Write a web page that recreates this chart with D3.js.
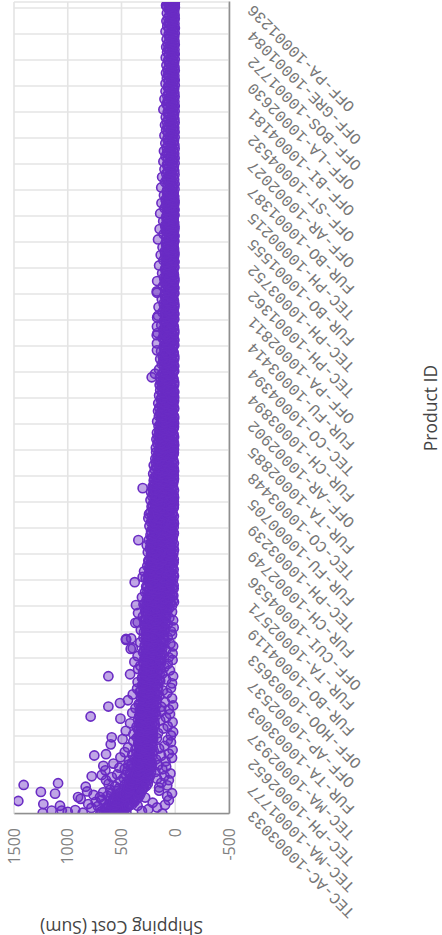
<!DOCTYPE html>
<html>
<head>
<meta charset="utf-8">
<script src="https://cdn.jsdelivr.net/npm/d3@7"></script>
<style>
  body { margin: 0; background: #fff; }
  svg { display: block; }
</style>
</head>
<body>
<div id="chart-container"></div>
<script>
// Tick labels along the product axis, first product first
const productLabels = [
  "TEC-AC-10003033","TEC-MA-10001777","TEC-PH-10002652","TEC-MA-10002937","FUR-TA-10003003","OFF-AP-10002537",
  "OFF-HOO-10003653","FUR-BO-10004119","FUR-TA-10002571","OFF-CUI-10004536","FUR-CH-10002749","TEC-PH-10003239",
  "FUR-FU-10000705","TEC-CO-10003448","FUR-TA-10002885","OFF-AR-10002902","FUR-CH-10003894","TEC-CO-10004394",
  "FUR-FU-10003414","OFF-PA-10002811","TEC-PH-10001362","TEC-PH-10003752","FUR-BO-10001555","TEC-PH-10000215",
  "FUR-BO-10001387","OFF-AR-10002027","OFF-ST-10004532","OFF-BI-10004181","OFF-LA-10002630","OFF-BOS-10001772",
  "OFF-GRE-10001084","OFF-PA-10001236"
];
const ranksPerLabel = 60;
const lastRank = 1874;
const costTicks = [-500, 0, 500, 1000, 1500];

// Shipping cost, one list per gap between two product labels
const costsByGap = [
  [640,120,510,860,455,560,690,310,600,930,480,250,650,530,780,170,580,440,720,350,620,95,500,810,660,470,210,590,740,540,390,610,60,680,520,880,430,570,280,700,490,75,630,550,760,460,340,595,30,515,670,420,820,545,150,480,605,380,450,525],
  [440,150,380,560,340,75,470,410,620,320,130,450,360,510,390,60,430,300,170,480,350,590,400,100,330,460,540,370,45,420,310,185,445,380,650,340,120,470,395,520,325,85,415,355,160,435,300,575,405,365],
  [350,90,290,430,260,180,380,320,30,510,270,340,130,300,400,250,60,360,280,470,310,200,265,25,330,370,150,285,440,255,335,100,300,270,600,345,215,275,40,320,390,260,70,305,490,285,170,355,235,315],
  [330,40,270,390,235,160,300,20,250,460,340,210,285,110,315,240,360,70,265,320,190,245,420,300,25,275,230,140,345,255,510,290,85,225,335,260,175,305,50,280,400,240,320,130,270],
  [310,60,250,370,215,130,285,20,235,340,200,265,95,300,225,440,170,255,30,320,210,275,150,240,395,295,75,220,330,250,115,270,205,355,40,290,230,185,305,260],
  [290,30,240,350,195,140,270,85,220,310,180,255,20,285,205,420,120,235,300,165,265,50,215,345,190,275,100,245,325,175,230,70,295,210,380,150,255,25,225,185],
  [280,60,220,350,175,115,260,25,205,300,165,240,85,275,190,395,135,225,20,285,155,250,45,210,325,180,265,100,235,170,410,295,70,200,245,150,30,270,215,185],
  [270,40,210,320,160,95,250,15,195,285,145,230,70,260,175,350,120,215,20,275,150,240,55,190,300,165,225,85,255,135,205,30,280,180,110,235,60,160,265,200],
  [250,30,195,295,140,80,235,12,180,265,125,215,55,245,160,310,100,200,18,255,135,225,45,170,280,115,205,70,240,150,25,190,90,260,130,210,15,175,60,230,145,105,35,220,185],
  [235,20,180,275,120,70,220,12,165,250,105,200,45,230,145,290,85,185,15,240,130,210,35,155,260,95,190,60,225,115,25,175,75,245,135,200,14,160,50,215,125,90,30,205,170],
  [215,18,165,255,110,60,205,12,150,235,95,185,40,215,135,265,75,170,14,225,120,195,30,140,245,85,175,55,210,105,22,160,65,230,125,190,13,145,45,200,115,80,28,180,155],
  [205,15,155,240,100,55,195,12,140,225,85,175,35,205,125,250,70,160,13,215,110,185,28,130,230,80,165,50,200,95,20,150,60,220,115,180,12,135,42,190],
  [195,14,145,230,90,50,185,11,130,215,78,165,32,195,115,225,62,150,12,205,100,175,25,120,210,72,155,45,190,88,18,140,55,200,105,170,12,125,38,180],
  [170,13,125,205,80,45,160,11,115,190,68,145,28,172,100,200,55,130,12,180,88,155,22,108,185,62,138,40,165,76,16,122,50,178,92,150],
  [150,12,110,180,72,40,142,10,102,165,60,128,25,152,88,175,48,118,11,160,78,135,20,95,170,55,122,35,145,68,15,108,44,155,82,132],
  [140,11,100,168,65,36,130,10,92,152,54,118,22,138,80,160,44,108,10,148,70,125,18,86,158,50,112,30,134,60],
  [130,10,92,150,58,32,120,9,84,140,48,108,20,126,72,145,40,98,10,135,64,114,16,78,142,44,102,28,122,54],
  [108,10,80,150,52,28,102,9,72,125,42,95,18,110,64,140,36,86,9,118,56,98,14,70,132,40,90,24,104,48],
  [104,9,76,170,48,26,98,8,68,118,38,90,16,106,60,165,33,82,9,112,52,94,13,66,130,36,86,22,100,44],
  [100,9,70,168,45,24,92,8,62,120,36,84,15,102,56,155,30,76,8,108,48,88,12,60,125,33,80,20,96,40],
  [95,8,66,172,42,22,88,8,58,115,34,80,14,98,52,168,28,72,8,104,46,84,12,56,122,30,76,18,92,38],
  [90,8,62,150,40,20,84,7,54,110,30,76,13,92,48,135,26,68,8,98,44,80,11,52,118,28,72,16,86,36],
  [85,8,58,160,36,18,80,7,50,108,28,72,12,88,46,145,24,64,7,94,40,76,10,48,112,26,68,15,82,34],
  [80,7,54,140,34,17,76,7,46,100,26,68,11,84,42,128,22,60,7,90,38,72,10,44,105,24,64,14,78,30],
  [75,7,50,130,32,16,72,6,44,95,24,64,10,78,40,122,20,56,7,84,36,68,9,42,100,22,60,13,74,28],
  [75,6,48,110,30,15,70,6,42,90,22,62,9,76,38,105,18,54,6,80,34,66,8,40,92,20,58,12,72,26],
  [70,6,46,100,28,14,66,6,40,85,20,60,9,72,36,95,17,52,6,78,32,64,8,38,88,19,56,11,68,24],
  [70,6,44,110,26,13,64,5,38,82,19,58,8,70,34,100,16,50,6,74,30,62,8,36,90,18,54,10,66,22],
  [65,5,42,90,25,12,60,5,36,78,18,55,8,66,32,86,15,48,5,70,28,58,7,34,82,16,52,10,62,21],
  [65,5,40,88,24,12,58,5,34,76,17,52,7,64,30,84,14,46,5,68,27,56,7,32,80,15,50,9,60,20],
  [60,5,38,90,23,11,56,4,33,74,16,50,7,62,28,82,13,44,5,66,26,54,6,30,78,14,48,9,58,19],
  [60,4,36,85,22,10,54,4,32,72,15,48,6,60,27,78,12,42,4,64,25,52,6,29,70,13,46,8,56,18]
];

// The thick core of the cloud, same gaps as above
const coreCostsByGap = [
  [700,520,660,500,680,540,610,470,650,490,590,450,630,430,560,400,600,420,530,380,570,395,510,360,540,345,480,370,500,330,470,350,450,320,440,340,430,310,420,300],
  [440,290,410,270,430,310,390,255,420,280,370,260,400,300,350,245,380,270,345,235,365,285,330,250,355,225,340,265,320,240,350,220,335,255,310,230,345,215,325,245],
  [345,225,315,240,335,260,300,220,325,280,345,235,290,250,330,215,310,265,340,230,295,245,320,210,335,270,300,225,315,255,340,215,285,240,325,205,305,260,330,220],
  [340,210,305,230,330,250,285,205,320,265,345,220,280,240,310,200,295,255,335,215,275,235,315,195,325,260,290,210,300,245,335,205,270,225,315,190,295,250,325,210],
  [330,190,290,215,320,235,270,180,305,250,325,200,260,225,295,175,280,240,315,195,255,215,300,170,310,245,275,185,285,230,320,165,250,205,295,160,270,235,310,180],
  [300,165,265,190,290,215,245,150,280,230,305,175,240,205,270,145,255,220,295,160,235,195,275,140,285,225,250,155,260,210,290,135,225,180,270,130,245,215,285,150],
  [285,130,245,170,275,195,225,125,260,210,290,150,220,185,250,120,235,200,280,140,215,175,255,115,265,205,230,135,240,190,275,110,205,160,250,105,225,195,270,125],
  [290,100,235,150,270,175,210,95,250,190,280,125,200,165,240,90,220,180,285,115,195,155,245,85,260,185,215,105,230,170,275,80,190,135,240,75,210,175,265,100],
  [275,70,220,125,255,45,195,150,235,20,265,100,180,210,60,245,140,170,30,225,90,260,120,200,50,240,160,15,215,80,270,130,185,40,230,110,205,65,250,155],
  [255,60,205,110,235,40,180,135,220,18,245,90,165,195,55,225,125,150,25,210,80,240,105,185,45,215,145,15,200,70,250,115,170,35,230,100,190,60,210,140],
  [225,50,185,100,215,35,160,125,200,18,230,80,150,175,45,210,115,140,25,190,70,220,95,165,40,195,130,15,180,65,225,105,155,30],
  [210,45,170,90,200,30,150,115,185,16,215,75,135,160,40,195,105,125,22,175,60,205,85,145,35,180,120,14,165,55,210,95,140,28],
  [200,40,160,85,190,28,135,105,175,15,205,65,125,150,35,185,95,115,20,165,55,195,78,130,30,170,110,14,155,50,195,90],
  [170,35,135,75,160,25,115,90,150,14,175,58,105,125,30,155,82,98,18,140,48,165,68,110,26,145,95,13,130,42],
  [150,30,120,65,142,22,100,80,132,13,155,50,92,112,26,138,72,85,16,125,42,148,60,98,22,128,84,12,115,38],
  [130,26,105,58,125,20,90,72,115,12,135,44,82,98,24,120,64,76,15,110,38,128,54,88,20,112,74,11,100,34],
  [125,24,95,52,115,18,82,65,105,11,122,40,75,90,22,110,58,70],
  [110,20,85,48,102,16,75,60,95,10,112,36,68,82,19,100,52,62],
  [105,18,80,44,98,15,70,55,90,9,106,33,62,76,17,95,48,58],
  [100,17,76,42,94,14,66,52,86,9,102,30,58,72,16,90,46,54],
  [96,16,72,40,90,13,62,48,82,8,98,28,55,68,15,86,44,50],
  [90,15,68,38,85,12,58,46,78,8,92,26,52,64,14,82,42,48],
  [86,14,64,35,80,12,56,44,74,8,88,24,50,60,13,78,40,46],
  [80,13,60,32,76,11,52,42,70,7,84,22,48,56,12,74,36,44]
];
const topCosts = [58,6,34,80,20,10,52,5,30,66,14,44,8];

// The few points that sit well away from the rest
const outlierRanks = [67,30,51,23,71,47,19,2,8,8,5,39,63,87,135,225,318,248,177,138,111,90,78,256,402,381,752,632,692,535,482,547,464,441,404,1016,1008,1203,1150,1125,1105,1070];
const outlierCosts = [1410,1460,1250,1227,1090,1118,1072,1233,1150,1056,1000,904,833,777,753,787,622,622,591,644,669,684,644,514,458,414,303,343,244,377,365,303,346,371,458,188,219,170,160,170,172,170];

const margin = { top: 14, left: 121 };
const width = 812;
const height = 215;

const x = d3.scaleLinear().domain([0, lastRank]).range([0, width]);
const y = d3.scaleLinear().domain([-500, 1500]).range([height, 0]);

// Chart is drawn wide and then turned a quarter turn
const svg = d3.select("#chart-container")
  .append("svg")
    .attr("width", 442)
    .attr("height", 935);

const g = svg.append("g")
    .attr("transform", `translate(0,935) rotate(-90) translate(${margin.left},${margin.top})`);

g.append("clipPath")
    .attr("id", "plot-clip")
  .append("rect")
    .attr("width", width)
    .attr("height", height);

const rankTicks = productLabels.map((d, i) => i * ranksPerLabel);

// Grid
g.selectAll("line.x-grid")
  .data([...rankTicks, lastRank])
  .join("line")
    .attr("class", "x-grid")
    .attr("x1", d => x(d))
    .attr("x2", d => x(d))
    .attr("y1", 0)
    .attr("y2", height)
    .attr("stroke", "#e4e4e4")
    .attr("stroke-width", 1.6);

g.selectAll("line.y-grid")
  .data(costTicks)
  .join("line")
    .attr("class", "y-grid")
    .attr("x1", 0)
    .attr("x2", width)
    .attr("y1", d => y(d))
    .attr("y2", d => y(d))
    .attr("stroke", "#e4e4e4")
    .attr("stroke-width", 1.6);

// Points
const points = [];
[costsByGap, coreCostsByGap].forEach(lists => {
  lists.forEach((costs, i) => {
    costs.forEach((c, j) => points.push({ rank: (i + j / costs.length) * ranksPerLabel, cost: c }));
  });
});
topCosts.forEach((c, j) => points.push({ rank: rankTicks[31] + 1 + j, cost: c }));
outlierRanks.forEach((r, i) => points.push({ rank: r, cost: outlierCosts[i] }));

g.append("g")
    .attr("clip-path", "url(#plot-clip)")
  .selectAll("circle")
  .data(points)
  .join("circle")
    .attr("cx", d => x(d.rank))
    .attr("cy", d => y(d.cost))
    .attr("r", 4.6)
    .attr("fill", "#6a2cc4")
    .attr("fill-opacity", 0.42)
    .attr("stroke", "#6a2cc4")
    .attr("stroke-width", 1.6);

// Axes
const xAxis = g.append("g")
    .attr("transform", `translate(0,${height})`)
    .call(d3.axisBottom(x)
      .tickValues(rankTicks)
      .tickFormat((d, i) => productLabels[i])
      .tickSize(0));

xAxis.select(".domain").attr("stroke", "#8f8f8f").attr("stroke-width", 1.6);
xAxis.selectAll("text")
    .attr("transform", "translate(0,21) rotate(-45)")
    .attr("x", 0)
    .attr("y", 0)
    .attr("dy", "0.32em")
    .attr("text-anchor", "end")
    .style("font-family", "'Liberation Mono', monospace")
    .style("font-size", "16px")
    .style("fill", "#777");

const yAxis = g.append("g")
    .call(d3.axisLeft(y)
      .tickValues(costTicks)
      .tickFormat(String)
      .tickSize(0)
      .tickPadding(14));

yAxis.select(".domain").attr("stroke", "#8f8f8f").attr("stroke-width", 1.6);
yAxis.selectAll("text")
    .style("font-family", "'Open Sans', sans-serif")
    .style("font-size", "16px")
    .style("fill", "#808080");

// Axis titles
g.append("text")
    .attr("x", width / 2)
    .attr("y", 423)
    .attr("text-anchor", "middle")
    .style("font-family", "'Open Sans', sans-serif")
    .style("font-size", "17.5px")
    .style("fill", "#444")
    .text("Product ID");

g.append("text")
    .attr("transform", `translate(-107,${height / 2}) rotate(-90)`)
    .attr("text-anchor", "middle")
    .style("font-family", "'Open Sans', sans-serif")
    .style("font-size", "17.5px")
    .style("fill", "#444")
    .text("Shipping Cost (Sum)");
</script>
</body>
</html>
